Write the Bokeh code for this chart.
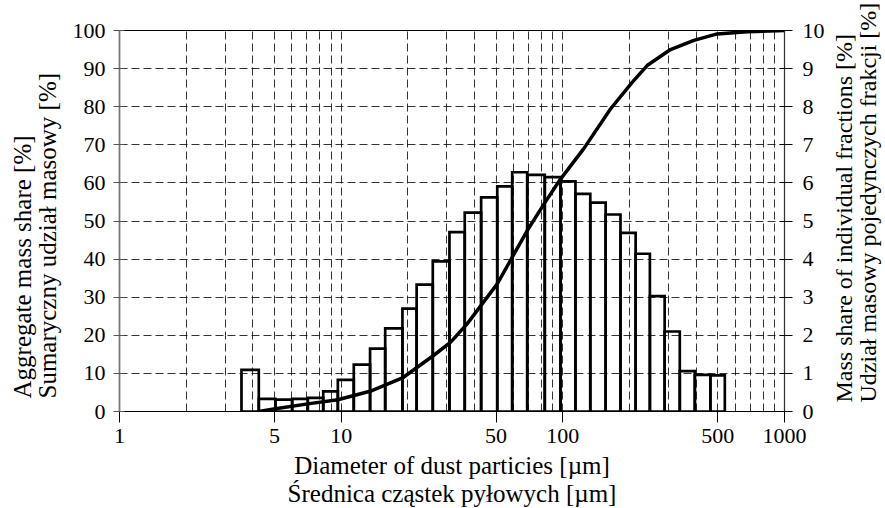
import math
from bokeh.plotting import figure
from bokeh.models import Range1d, LinearAxis, FixedTicker, NumeralTickFormatter, ColumnDataSource, Label
from bokeh.embed import file_html
from bokeh.resources import INLINE

# ---- data ----
bin_edges = [3.55, 4.25, 5.05, 6.01, 7.07, 8.30, 9.66, 11.4, 13.5, 15.8, 18.9, 21.9,
             25.9, 30.8, 36.1, 42.8, 50.6, 59.1, 69.1, 82.9, 97.6, 114, 133, 156,
             182, 213, 247, 288, 337, 394, 463, 538]
fraction = [1.09, 0.33, 0.31, 0.33, 0.36, 0.53, 0.83, 1.23, 1.65, 2.18, 2.70, 3.33,
            3.94, 4.71, 5.22, 5.62, 5.91, 6.28, 6.21, 6.15, 6.04, 5.71, 5.48, 5.17,
            4.69, 4.14, 3.03, 2.10, 1.06, 0.96, 0.95]
cum_diam = [4.25, 5.05, 7.07, 9.66, 13.5, 18.9, 26.1, 31.2, 37.0, 50.6, 69.1, 82.3,
            97.6, 124.3, 164, 205.5, 240, 306, 390, 497, 679, 1000]
cum_pct = [0, 0.7, 2.0, 3.1, 5.3, 8.8, 14.7, 18.2, 23.0, 33.5, 47.5, 54.5,
           61.0, 69.0, 79.4, 86.4, 90.8, 95.0, 97.4, 99.1, 99.7, 100]
x_major = [1, 5, 10, 50, 100, 500, 1000]
x_grid = [2, 3, 4, 5, 6, 7, 8, 9, 10, 20, 30, 40, 50, 60, 70, 80, 90, 100,
          200, 300, 400, 500, 600, 700, 800, 900]
y_left_ticks = [0, 10, 20, 30, 40, 50, 60, 70, 80, 90, 100]
y_right_ticks = [0, 1, 2, 3, 4, 5, 6, 7, 8, 9, 10]
x_title = ["Diameter of dust particies [µm]", "Średnica cząstek pyłowych [µm]"]
yl_title = ["Aggregate mass share [%]", "Sumaryczny udział masowy [%]"]
yr_title = ["Mass share of individual fractions [%]", "Udział masowy pojedynczych frakcji [%]"]

FONT = "Liberation Serif"

p = figure(frame_width=665, frame_height=381, x_axis_type="log",
           x_range=Range1d(1, 1000), y_range=Range1d(0, 100),
           min_border_left=119, min_border_right=100, min_border_top=30, min_border_bottom=96,
           output_backend="svg", toolbar_location=None,
           background_fill_color="white", border_fill_color="white")
p.extra_y_ranges = {"right": Range1d(0, 10)}
p.outline_line_color = "black"
p.outline_line_width = 1.2

# grids
p.xgrid.ticker = FixedTicker(ticks=x_grid)
p.ygrid.ticker = FixedTicker(ticks=y_left_ticks[1:-1])
for g in (p.xgrid, p.ygrid):
    g.grid_line_color = "#111111"
    g.grid_line_dash = "8 4"
    g.grid_line_width = 1
    g.grid_line_alpha = 0.85

# bottom axis
xa = p.xaxis[0]
xa.ticker = FixedTicker(ticks=x_major, minor_ticks=[])
xa.formatter = NumeralTickFormatter(format="0")
xa.major_tick_out = 11
xa.major_tick_in = 0
xa.minor_tick_line_color = None
xa.major_label_standoff = 6
xa.axis_line_color = "black"
xa.major_tick_line_color = "black"
xa.axis_label = x_title[0] + "\n" + x_title[1]
xa.axis_label_standoff = 6
xa.axis_label_text_line_height = 1.05
xa.axis_label_text_font = FONT
xa.axis_label_text_font_size = "25px"
xa.axis_label_text_font_style = "normal"
xa.axis_label_text_color = "black"

# left axis (ticks only; title drawn by labels in the left panel)
ya = p.yaxis[0]
ya.ticker = FixedTicker(ticks=y_left_ticks)
ya.major_tick_out = 6
ya.major_tick_in = 5
ya.minor_tick_line_color = None
ya.major_label_standoff = 8
ya.axis_line_color = "#777777"
ya.axis_line_width = 1.5
ya.major_tick_line_color = "#555555"

# right axis (ticks only; title drawn by labels in the right panel)
ra = LinearAxis(y_range_name="right", ticker=FixedTicker(ticks=y_right_ticks))
ra.major_tick_out = 8
ra.major_tick_in = 5
ra.minor_tick_line_color = None
ra.major_label_standoff = 10
ra.axis_line_color = "#333333"
p.add_layout(ra, "right")

for ax in (xa, ya, ra):
    ax.major_label_text_font = FONT
    ax.major_label_text_font_size = "22px"
    ax.major_label_text_color = "black"


def side_title(side, txt, xoff, yoff, size):
    p.add_layout(Label(x=xoff, y=yoff, x_units="screen", y_units="screen", text=txt,
                       angle=math.pi / 2, text_align="left", text_baseline="middle",
                       text_font=FONT, text_font_size=size, text_color="black"), side)


# left titles (inner line first), reading bottom to top from a common start
side_title("left", yl_title[1], 5, 13, "25px")
side_title("left", yl_title[0], 7, 13, "25px")
# right titles (inner line first)
side_title("right", yr_title[0], 16, 9, "24px")
side_title("right", yr_title[1], 14, 9, "24px")

# bars (individual fractions, right axis)
src = ColumnDataSource(dict(left=bin_edges[:-1], right=bin_edges[1:], top=fraction,
                            bottom=[0] * len(fraction)))
p.quad(left="left", right="right", top="top", bottom="bottom", source=src,
       y_range_name="right", fill_alpha=0, line_color="black", line_width=2.7,
       line_join="miter")

# cumulative curve (left axis)
p.line(cum_diam, cum_pct, line_color="black", line_width=3.5)

open("out.html", "w").write(file_html(p, INLINE))
